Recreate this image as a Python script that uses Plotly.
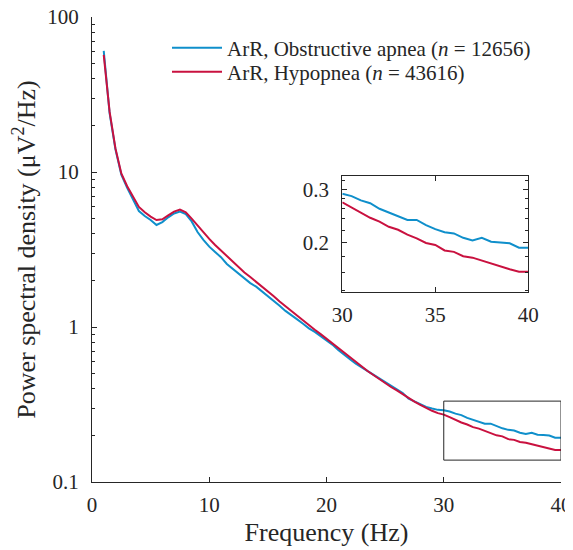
import math
import plotly.graph_objects as go

freq = [1.0 + 0.5 * i for i in range(79)]

obstructive = [60.5, 24.0, 14.0, 9.6, 7.9, 6.6, 5.6, 5.2, 4.9, 4.55,
               4.75, 5.1, 5.4, 5.55, 5.35, 4.8, 4.1, 3.65, 3.3, 3.05,
               2.82, 2.55, 2.38, 2.2, 2.08, 1.92, 1.82, 1.7, 1.58, 1.48,
               1.37, 1.27, 1.2, 1.12, 1.05, 0.98, 0.93, 0.87, 0.82, 0.77,
               0.71, 0.66, 0.62, 0.58, 0.55, 0.515, 0.49, 0.465, 0.445, 0.42,
               0.4, 0.375, 0.345, 0.33, 0.318, 0.305, 0.298, 0.292, 0.29, 0.285,
               0.276, 0.27, 0.259, 0.252, 0.246, 0.238, 0.238, 0.229, 0.222, 0.217,
               0.215, 0.208, 0.204, 0.208, 0.202, 0.201, 0.1996, 0.193, 0.193]

hypopnea = [57.0, 24.5, 14.2, 9.8, 8.1, 6.9, 5.95, 5.5, 5.15, 4.9,
            4.95, 5.25, 5.55, 5.72, 5.5, 5.0, 4.5, 4.05, 3.7, 3.38,
            3.12, 2.88, 2.62, 2.42, 2.25, 2.1, 1.96, 1.82, 1.7, 1.58,
            1.46, 1.36, 1.27, 1.18, 1.1, 1.02, 0.96, 0.9, 0.84, 0.79,
            0.73, 0.68, 0.635, 0.595, 0.555, 0.52, 0.49, 0.46, 0.435, 0.41,
            0.39, 0.368, 0.348, 0.33, 0.315, 0.3, 0.288, 0.278, 0.272, 0.262,
            0.251, 0.242, 0.235, 0.226, 0.221, 0.213, 0.207, 0.2, 0.197, 0.189,
            0.187, 0.181, 0.179, 0.175, 0.172, 0.168, 0.164, 0.161, 0.161]

series_names = ["ArR, Obstructive apnea (<i>n</i> = 12656)",
                "ArR, Hypopnea (<i>n</i> = 43616)"]
series_colors = ["#0F8FCB", "#C9113F"]

x_ticks = [0, 10, 20, 30, 40]
y_ticks = [0.1, 1, 10, 100]
y_ticklabels = ["0.1", "1", "10", "100"]
y_minor = [v * m for m in (0.1, 1, 10) for v in range(2, 10)]

inset_x_range = [30, 40]
inset_y_range = [0.1384, 0.3325]
inset_x_ticks = [30, 35, 40]
inset_y_ticks = [0.2, 0.3]
inset_y_ticklabels = ["0.2", "0.3"]
inset_y_minor = [0.14, 0.16, 0.18, 0.22, 0.24, 0.26, 0.28, 0.32]

FONT = "'Liberation Serif', 'Times New Roman', 'DejaVu Serif', serif"
INK = "#262626"

# the page body adds an 8px offset; work in reference pixels minus that offset
OFF = 8
W, H = 573 - OFF, 550 - OFF
L, R, T, B = 92 - OFF, 561 - OFF, 17 - OFF, 482 - OFF
PW, PH = R - L, B - T


def px_x(p):
    return (p - OFF - L) / PW


def px_y(p):
    return (B - (p - OFF)) / PH


fig = go.Figure()
legends = ["legend", "legend2"]
for vals, name, col, lg in zip([obstructive, hypopnea], series_names, series_colors, legends):
    fig.add_trace(go.Scatter(x=freq, y=vals, mode="lines", name=name,
                             line=dict(color=col, width=2), legend=lg,
                             xaxis="x", yaxis="y"))
for vals, col in zip([obstructive, hypopnea], series_colors):
    sel = [(f, v) for f, v in zip(freq, vals) if f >= inset_x_range[0]]
    fig.add_trace(go.Scatter(x=[s[0] for s in sel], y=[s[1] for s in sel],
                             mode="lines", showlegend=False,
                             line=dict(color=col, width=2),
                             xaxis="x2", yaxis="y2"))

fig.add_shape(type="rect", xref="x", yref="y",
              x0=inset_x_range[0], x1=inset_x_range[1],
              y0=inset_y_range[0], y1=inset_y_range[1],
              line=dict(color=INK, width=1))

axis_common = dict(showline=True, linecolor=INK, linewidth=1, ticks="inside",
                   tickcolor=INK, showgrid=False, zeroline=False, automargin=False,
                   ticklabeloverflow="allow",
                   tickfont=dict(family=FONT, size=21, color=INK))

legend_common = dict(xanchor="left", yanchor="middle", bgcolor="rgba(0,0,0,0)",
                     borderwidth=0, font=dict(family=FONT, size=21, color=INK),
                     itemwidth=50)

fig.update_layout(
    width=W, height=H,
    margin=dict(l=L, r=W - R, t=T, b=H - B, autoexpand=False),
    paper_bgcolor="white", plot_bgcolor="white",
    font=dict(family=FONT, color=INK, size=21),
    xaxis=dict(domain=[0, 1], range=[0, 40], tickvals=x_ticks, ticklen=5,
               ticklabelstandoff=4,
               title=dict(text="Frequency (Hz)", font=dict(family=FONT, size=26), standoff=6),
               **axis_common),
    yaxis=dict(domain=[0, 1], type="log", range=[-1, 2], tickvals=y_ticks,
               ticktext=y_ticklabels, ticklen=5, ticklabelstandoff=8,
               minor=dict(tickvals=y_minor, ticks="inside", ticklen=3, tickcolor=INK),
               title=dict(text="Power spectral density (μV<sup>2</sup>/Hz)",
                          font=dict(family=FONT, size=26), standoff=8),
               **axis_common),
    xaxis2=dict(domain=[px_x(342.3), px_x(528.3)], anchor="y2", range=inset_x_range,
                tickvals=inset_x_ticks, ticklen=5, mirror="ticks",
                ticklabelstandoff=4, **axis_common),
    yaxis2=dict(domain=[px_y(291.7), px_y(175.7)], anchor="x2", type="log",
                range=[math.log10(inset_y_range[0]), math.log10(inset_y_range[1])],
                tickvals=inset_y_ticks, ticktext=inset_y_ticklabels, ticklen=5,
                mirror="ticks", ticklabelstandoff=8,
                minor=dict(tickvals=inset_y_minor, ticks="inside", ticklen=3, tickcolor=INK),
                **axis_common),
    legend=dict(x=px_x(167), y=px_y(48), **legend_common),
    legend2=dict(x=px_x(167), y=px_y(72), **legend_common),
    showlegend=True,
)

fig.write_html("out.html")
